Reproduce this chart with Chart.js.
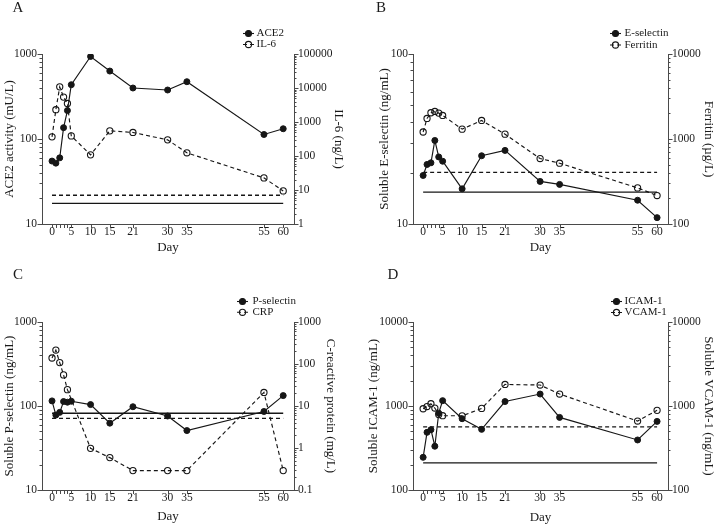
<!DOCTYPE html>
<html><head><meta charset="utf-8">
<script src="https://cdn.jsdelivr.net/npm/chart.js@4.4.0/dist/chart.umd.min.js"></script>
<style>
html,body{margin:0;padding:0;background:#fff;}
#wrap{position:relative;width:716px;height:527px;overflow:hidden;background:#fff;}
canvas{position:absolute;}
</style></head><body>
<div id="wrap">
<canvas id="cA" width="358" height="260" style="left:0;top:0;width:358px;height:260px"></canvas>
<canvas id="cB" width="358" height="260" style="left:358px;top:0;width:358px;height:260px"></canvas>
<canvas id="cC" width="358" height="267" style="left:0;top:260px;width:358px;height:267px"></canvas>
<canvas id="cD" width="358" height="267" style="left:358px;top:260px;width:358px;height:267px"></canvas>
</div>
<script>
// ---------- data ----------
const days = [0, 1, 2, 3, 4, 5, 10, 15, 21, 30, 35, 55, 60];
const labeledDays = [0, 5, 10, 15, 21, 30, 35, 55, 60];

// Panel A
const ace2 = [55, 52, 60, 136, 216, 435, 935, 630, 398, 377, 472, 113, 132];
const il6 = [366, 2300, 10800, 5400, 3500, 390, 108, 550, 492, 299, 124, 22.7, 9.4];
const ace2Ref = 17.5;
const il6Ref = 7;
const aLeftTicks = [10, 100, 1000];
const aRightTicks = [1, 10, 100, 1000, 10000, 100000];

// Panel B
const eSelectin = [19.3, 22.4, 22.9, 31.0, 24.8, 23.4, 16.1, 25.2, 27.1, 17.8, 17.1, 13.8, 10.9];
const ferritin = [1208, 1744, 2035, 2110, 2016, 1893, 1306, 1652, 1140, 589, 519, 266, 216];
const eSelectinRef = 15.4;
const ferritinRef = 405;
const bLeftTicks = [10, 100];
const bRightTicks = [100, 1000, 10000];

// Panel C
const pSelectin = [115, 78, 84, 113, 111, 114, 104, 62.5, 98, 76, 51, 86, 133];
const crpDays = [0, 1, 2, 3, 4, 10, 15, 21, 30, 35, 55, 60];
const crp = [139, 215, 108, 55, 24.5, 0.98, 0.59, 0.29, 0.29, 0.29, 21, 0.29];
const pSelectinRef = 82;
const crpRef = 5.1;
const cLeftTicks = [10, 100, 1000];
const cRightTicks = [0.1, 1, 10, 100, 1000];

// Panel D
const icam1 = [245, 486, 522, 332, 822, 1158, 706, 527, 1130, 1388, 732, 394, 656];
const vcam1 = [927, 985, 1063, 945, 790, 766, 764, 936, 1806, 1776, 1388, 662, 888];
const icam1Ref = 210;
const vcam1Ref = 563;
const dLeftTicks = [100, 1000, 10000];
const dRightTicks = [100, 1000, 10000];

// ---------- style ----------
const INK = '#161616';
const AXIS = '#4a4a4a';
const TEXT = '#1a1a1a';
const FONT = '"Liberation Serif", "Times New Roman", serif';
Chart.defaults.font.family = FONT;
Chart.defaults.color = TEXT;

function pts(xs, ys) { return xs.map((x, i) => ({ x: x, y: ys[i] })); }
function refPts(v) { return [{ x: days[0], y: v }, { x: days[days.length - 1], y: v }]; }
function isMajor(v) { const l = Math.log10(v); return Math.abs(l - Math.round(l)) < 1e-6; }
function logTicks(list) {
  const t = [];
  const e0 = Math.round(Math.log10(list[0])), e1 = Math.round(Math.log10(list[list.length - 1]));
  for (let e = e0; e < e1; e++) for (let m = 1; m < 10; m++) t.push({ value: m * Math.pow(10, e) });
  t.push({ value: list[list.length - 1] });
  return t;
}
function fmt(v) {
  if (!isMajor(v)) return '';
  const e = Math.round(Math.log10(v));
  return e >= 0 ? String(Math.round(v)) : String(Number(v.toFixed(-e)));
}

const tickMarks = {
  id: 'tickMarks',
  afterDraw(chart) {
    const ctx = chart.ctx;
    ctx.save();
    ctx.strokeStyle = AXIS;
    ctx.lineWidth = 1;
    for (const id in chart.scales) {
      const s = chart.scales[id];
      s.ticks.forEach(t => {
        ctx.beginPath();
        if (s.axis === 'x') {
          const px = Math.round(s.getPixelForValue(t.value)) + 0.5;
          ctx.moveTo(px, s.top);
          ctx.lineTo(px, s.top + 4);
        } else {
          const py = Math.round(s.getPixelForValue(t.value)) + 0.5;
          const len = isMajor(t.value) ? 4.5 : 2.5;
          if (s.position === 'left') { ctx.moveTo(s.right, py); ctx.lineTo(s.right - len, py); }
          else { ctx.moveTo(s.left, py); ctx.lineTo(s.left + len, py); }
        }
        ctx.stroke();
      });
    }
    ctx.restore();
  }
};

const miniLegend = {
  id: 'miniLegend',
  afterDraw(chart, args, o) {
    if (!o || o.x === undefined) return;
    const ctx = chart.ctx;
    const items = chart.data.datasets.filter(d => d.inLegend);
    items.forEach((d, i) => {
      const y = o.y + i * o.dy;
      ctx.save();
      ctx.strokeStyle = INK;
      ctx.lineWidth = 1.1;
      ctx.setLineDash(d.borderDash || []);
      ctx.beginPath(); ctx.moveTo(o.x - 5.5, y); ctx.lineTo(o.x + 5.5, y); ctx.stroke();
      ctx.setLineDash([]);
      ctx.beginPath(); ctx.arc(o.x, y, d.pointRadius, 0, Math.PI * 2);
      if (d.filled) { ctx.fillStyle = INK; ctx.fill(); }
      ctx.stroke();
      ctx.fillStyle = TEXT;
      ctx.font = '11px ' + FONT;
      ctx.textAlign = 'left';
      ctx.textBaseline = 'middle';
      ctx.fillText(d.label, o.tx, y);
      ctx.restore();
    });
  }
};

const panelLetter = {
  id: 'panelLetter',
  afterDraw(chart, args, o) {
    if (!o || !o.text) return;
    const ctx = chart.ctx;
    ctx.save();
    ctx.fillStyle = TEXT;
    ctx.font = '15px ' + FONT;
    ctx.textAlign = 'center';
    ctx.textBaseline = 'middle';
    ctx.fillText(o.text, o.x, o.y);
    ctx.restore();
  }
};

function solidSet(label, data, axis) {
  return { label, data, yAxisID: axis, borderColor: INK, backgroundColor: INK, borderWidth: 1.15,
    pointRadius: 3, pointBorderWidth: 1, pointBackgroundColor: INK, pointBorderColor: INK,
    tension: 0, inLegend: true, filled: true, order: 1 };
}
function openSet(label, data, axis) {
  return { label, data, yAxisID: axis, borderColor: INK, backgroundColor: 'rgba(0,0,0,0)', borderWidth: 1.15,
    borderDash: [4, 3], pointRadius: 3.1, pointBorderWidth: 1.1, pointBackgroundColor: 'rgba(0,0,0,0)',
    pointBorderColor: INK, tension: 0, inLegend: true, filled: false, order: 2 };
}
function refSet(v, axis, dashed) {
  return { label: '', data: refPts(v), yAxisID: axis, borderColor: INK, borderWidth: 1.3,
    borderDash: dashed ? [4, 3] : [], pointRadius: 0, tension: 0, inLegend: false, order: 3 };
}

function makeChart(id, cfg) {
  const H = cfg.height;
  const xScale = {
    type: 'linear', min: -2.6, max: 62.8,
    afterBuildTicks: s => { s.ticks = days.map(v => ({ value: v })); },
    afterFit: s => { s.height = H - cfg.bottom; },
    grid: { display: false, drawTicks: false },
    border: { display: true, color: AXIS, width: 1 },
    ticks: { autoSkip: false, maxRotation: 0, minRotation: 0, padding: 1, color: TEXT,
      font: { size: 11.5 }, callback: v => labeledDays.includes(v) ? String(v) : '' },
    title: { display: true, text: 'Day', color: TEXT, font: { size: 13 }, padding: { top: 0, bottom: cfg.xTitlePad } }
  };
  const yL = {
    type: 'logarithmic', position: 'left', min: cfg.lt[0], max: cfg.lt[cfg.lt.length - 1],
    afterBuildTicks: s => { s.ticks = logTicks(cfg.lt); },
    afterFit: s => { s.width = cfg.left; },
    grid: { display: false, drawTicks: false },
    border: { display: true, color: AXIS, width: 1 },
    ticks: { autoSkip: false, padding: 5, color: TEXT, font: { size: 11.5 }, callback: v => fmt(v) },
    title: { display: true, text: cfg.lTitle, color: TEXT, font: { size: 13 }, padding: { top: cfg.lTitlePad, bottom: 0 } }
  };
  const yR = {
    type: 'logarithmic', position: 'right', min: cfg.rt[0], max: cfg.rt[cfg.rt.length - 1],
    afterBuildTicks: s => { s.ticks = logTicks(cfg.rt); },
    afterFit: s => { s.width = 358 - cfg.right; },
    grid: { display: false, drawTicks: false },
    border: { display: true, color: AXIS, width: 1 },
    ticks: { autoSkip: false, padding: 4, color: TEXT, font: { size: 11.5 }, callback: v => fmt(v) },
    title: { display: true, text: cfg.rTitle, color: TEXT, font: { size: 13 }, padding: { top: cfg.rTitlePad, bottom: 0 } }
  };
  return new Chart(document.getElementById(id), {
    type: 'line',
    data: { datasets: cfg.datasets },
    options: {
      responsive: false, animation: false, devicePixelRatio: 1,
      layout: { padding: { top: cfg.top, left: 0, right: 0, bottom: 0 } },
      scales: { x: xScale, y: yL, y1: yR },
      plugins: {
        legend: { display: false }, tooltip: { enabled: false },
        miniLegend: cfg.legend, panelLetter: cfg.letter
      },
      elements: { line: { fill: false } }
    },
    plugins: [tickMarks, miniLegend, panelLetter]
  });
}

makeChart('cA', {
  height: 260, top: 54, bottom: 224, left: 42, right: 294,
  lt: aLeftTicks, rt: aRightTicks,
  lTitle: 'ACE2 activity (mU/L)', rTitle: 'IL-6 (ng/L)', lTitlePad: 2, rTitlePad: 12, xTitlePad: 5,
  legend: { x: 248.5, tx: 256.5, y: 33.5, dy: 11 },
  letter: { text: 'A', x: 18, y: 8.5 },
  datasets: [
    solidSet('ACE2', pts(days, ace2), 'y'),
    openSet('IL-6', pts(days, il6), 'y1'),
    refSet(ace2Ref, 'y', false),
    refSet(il6Ref, 'y1', true)
  ]
});

makeChart('cB', {
  height: 260, top: 54, bottom: 224, left: 55, right: 310,
  lt: bLeftTicks, rt: bRightTicks,
  lTitle: 'Soluble E-selectin (ng/mL)', rTitle: 'Ferritin (µg/L)', lTitlePad: 19, rTitlePad: 0, xTitlePad: 5,
  legend: { x: 257.5, tx: 266.5, y: 33.5, dy: 11.5 },
  letter: { text: 'B', x: 23, y: 8.5 },
  datasets: [
    solidSet('E-selectin', pts(days, eSelectin), 'y'),
    openSet('Ferritin', pts(days, ferritin), 'y1'),
    refSet(eSelectinRef, 'y', false),
    refSet(ferritinRef, 'y1', true)
  ]
});

makeChart('cC', {
  height: 267, top: 62, bottom: 230, left: 42, right: 294,
  lt: cLeftTicks, rt: cRightTicks,
  lTitle: 'Soluble P-selectin (ng/mL)', rTitle: 'C-reactive protein (mg/L)', lTitlePad: 2, rTitlePad: 20, xTitlePad: 3,
  legend: { x: 242.5, tx: 252.5, y: 41.5, dy: 10.8 },
  letter: { text: 'C', x: 18, y: 15 },
  datasets: [
    solidSet('P-selectin', pts(days, pSelectin), 'y'),
    openSet('CRP', pts(crpDays, crp), 'y1'),
    refSet(pSelectinRef, 'y', false),
    refSet(crpRef, 'y1', true)
  ]
});

makeChart('cD', {
  height: 267, top: 62, bottom: 230, left: 55, right: 310,
  lt: dLeftTicks, rt: dRightTicks,
  lTitle: 'Soluble ICAM-1 (ng/mL)', rTitle: 'Soluble VCAM-1 (ng/mL)', lTitlePad: 8, rTitlePad: 0, xTitlePad: 1.5,
  legend: { x: 258.5, tx: 266.5, y: 41.5, dy: 11 },
  letter: { text: 'D', x: 35, y: 15 },
  datasets: [
    solidSet('ICAM-1', pts(days, icam1), 'y'),
    openSet('VCAM-1', pts(days, vcam1), 'y1'),
    refSet(icam1Ref, 'y', false),
    refSet(vcam1Ref, 'y1', true)
  ]
});
</script>
</body></html>
